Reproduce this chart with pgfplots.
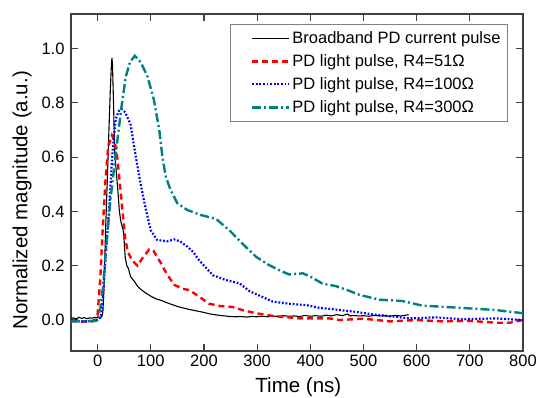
\documentclass[border=0pt]{standalone}
\usepackage{fontspec}
\setmainfont{Liberation Sans}
\usepackage{pgfplots}
\pgfplotsset{compat=1.18}
\definecolor{tealc}{RGB}{0,128,128}
\definecolor{spine}{RGB}{64,64,64}
\begin{document}
\begin{tikzpicture}
\begin{axis}[
  scale only axis, width=452pt, height=337pt,
  xmin=-50, xmax=800, ymin=-0.114, ymax=1.127,
  xtick={0,100,200,300,400,500,600,700,800},
  ytick={0,0.2,0.4,0.6,0.8,1.0},
  yticklabel style={/pgf/number format/fixed, /pgf/number format/fixed zerofill, /pgf/number format/precision=1, xshift=-3pt},
  /pgf/number format/assume math mode=true,
  tick label style={font=\fontsize{16.5}{18}\selectfont},
  xticklabel style={yshift=-0.5pt},
  tick align=inside, major tick length=7pt,
  tick style={line width=1.2pt, color=spine},
  axis line style={line width=1.8pt, color=spine},
  xlabel={Time (ns)}, ylabel={Normalized magnitude (a.u.)},
  label style={font=\fontsize{20.5}{22}\selectfont},
  xlabel style={at={(axis description cs:0.503,-0.107)}, anchor=center},
  ylabel style={at={(axis description cs:-0.108,0.447)}, anchor=center},
  legend style={at={(axis description cs:0.967,0.970)}, anchor=north east,
    draw=gray, line width=0.9pt, font=\fontsize{16.5}{18}\selectfont,
    row sep=5.6pt, inner xsep=5pt, inner ysep=5pt},
  legend cell align=left,
  legend image code/.code={\path (0pt,0pt) -- (0pt,0pt); \draw[#1] (16pt,0pt) -- (53pt,0pt);},
]
\addplot[black, line width=1.1pt] coordinates {
(-50,0.005) (-45,0.008) (-40,0.004) (-35,0.010) (-30,0.006) (-25,0.009) (-20,0.005)
(-15,0.008) (-10,0.007) (-5,0.010) (0,0.008) (5,0.010) (8,0.012) (10,0.030) (12,0.12)
(15,0.33) (18,0.50) (21,0.68) (24,0.85) (26,0.94) (27,0.965) (28,0.94) (30,0.80)
(32,0.62) (35,0.55) (38,0.48) (41,0.40) (44,0.36) (47,0.34) (49,0.32) (52,0.23)
(55,0.20) (58,0.19) (62,0.16) (66,0.15) (70,0.14) (75,0.125) (80,0.115) (90,0.10)
(100,0.088) (110,0.078) (120,0.072) (130,0.064) (140,0.057) (150,0.050) (160,0.045)
(170,0.040) (180,0.036) (190,0.032) (200,0.028) (210,0.023) (220,0.020) (230,0.017)
(240,0.015) (250,0.013) (260,0.012) (270,0.013) (280,0.011) (290,0.013) (300,0.012)
(310,0.014) (320,0.012) (330,0.015) (340,0.013) (350,0.016) (360,0.014) (370,0.015)
(380,0.013) (390,0.017) (400,0.014) (410,0.016) (420,0.014) (430,0.018) (440,0.015)
(450,0.020) (460,0.016) (470,0.022) (475,0.015) (480,0.017) (490,0.015) (500,0.016)
(510,0.014) (520,0.017) (530,0.015) (540,0.016) (550,0.014) (560,0.017) (570,0.015)
(580,0.018) (585,0.020)
};
\addlegendentry{Broadband PD current pulse}
\addplot[red, line width=2.4pt, dash pattern=on 6pt off 4pt] coordinates {
(-50,-0.004) (-30,-0.006) (-10,-0.005) (-5,-0.002) (0,0.02) (5,0.15) (10,0.35)
(15,0.52) (20,0.64) (27,0.68) (32,0.66) (37,0.60) (42,0.50) (47,0.40) (52,0.30)
(57,0.25) (65,0.22) (75,0.20) (85,0.23) (97,0.26) (105,0.255) (119,0.21) (130,0.17)
(144,0.13) (160,0.115) (173,0.11) (191,0.086) (210,0.060) (229,0.052) (254,0.048)
(275,0.035) (298,0.025) (330,0.015) (380,0.006) (436,0.006) (455,0.0) (500,0.005)
(550,-0.005) (600,0.0) (650,-0.005) (700,-0.003) (750,-0.010) (775,-0.010) (800,0.0)
};
\addlegendentry{PD light pulse, R4=51Ω}
\addplot[blue, line width=2.2pt, dash pattern=on 1.8pt off 1.8pt] coordinates {
(-50,-0.005) (-20,-0.004) (0,0.0) (6,0.01) (10,0.08) (16,0.26) (22,0.42) (28,0.62)
(34,0.74) (40,0.77) (45,0.777) (52,0.765) (62,0.72) (72,0.60) (81,0.50) (91,0.405)
(100,0.33) (112,0.295) (131,0.29) (144,0.297) (155,0.29) (169,0.27) (180,0.25)
(191,0.22) (205,0.19) (217,0.165) (240,0.148) (267,0.135) (286,0.106) (310,0.085)
(329,0.068) (360,0.060) (392,0.055) (417,0.045) (450,0.038) (486,0.030) (520,0.020)
(560,0.012) (586,0.006) (636,0.010) (686,0.003) (749,0.006) (800,0.0)
};
\addlegendentry{PD light pulse, R4=100Ω}
\addplot[tealc, line width=2.4pt, dash pattern=on 9pt off 3pt on 2pt off 3pt] coordinates {
(-50,-0.004) (-20,-0.005) (-3,-0.003) (0,0.005) (5,0.04) (10,0.12) (16,0.26) (24,0.44)
(34,0.61) (45,0.786) (53,0.896) (61,0.95) (70,0.973) (81,0.95) (94,0.896) (106,0.81)
(116,0.70) (122,0.60) (128,0.53) (137,0.48) (150,0.43) (169,0.405) (194,0.387)
(223,0.372) (248,0.33) (273,0.28) (298,0.233) (320,0.205) (340,0.185) (360,0.168)
(386,0.172) (400,0.16) (423,0.134) (448,0.125) (470,0.11) (492,0.093) (530,0.075)
(573,0.070) (611,0.053) (648,0.049) (698,0.043) (748,0.037) (800,0.025)
};
\addlegendentry{PD light pulse, R4=300Ω}
\end{axis}
\pgfresetboundingbox
\path (current axis.south west) ++(-71pt,-47pt) rectangle ++(537pt,398pt);
\end{tikzpicture}
\end{document}
